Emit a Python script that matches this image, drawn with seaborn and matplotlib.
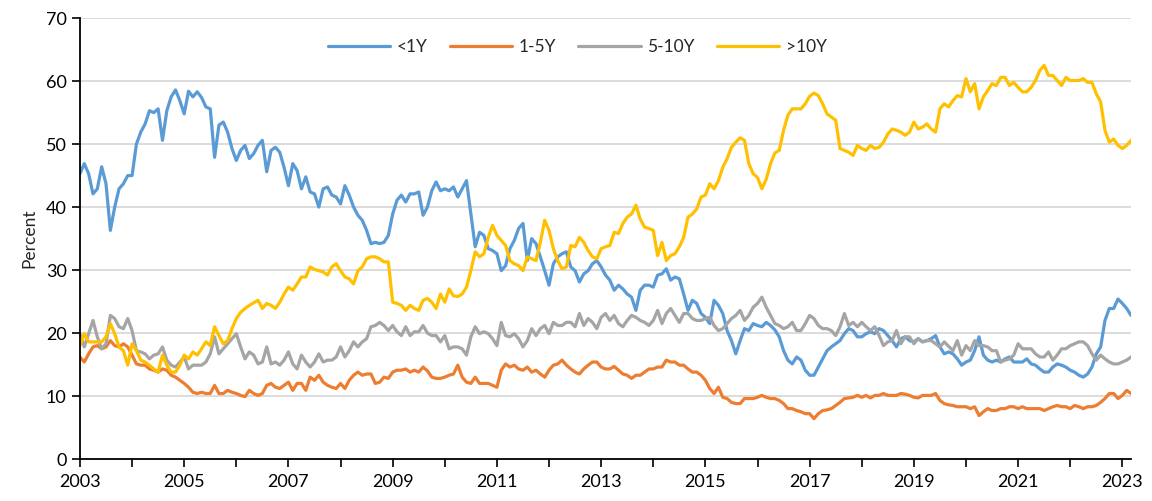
import matplotlib
matplotlib.use('Agg')
from matplotlib import pyplot as plt
from matplotlib.ticker import MultipleLocator, FixedLocator
import pandas as pd
import seaborn as sns

# monthly shares by maturity bucket, Jan 2003 onwards (percent)
series_names = ['<1Y', '1-5Y', '5-10Y', '>10Y']
series_colors = ['#5B9BD5', '#ED7D31', '#A5A5A5', '#FFC000']
year_labels = list(range(2003, 2024, 2))

lt_1y = [
    45.3, 46.9, 45.3, 42.1, 42.9, 46.4, 43.7, 36.3, 40.0, 42.9, 43.7, 45.0,
    45.0, 50.0, 51.9, 53.2, 55.3, 55.0, 55.6, 50.6, 55.3, 57.5, 58.6, 56.9,
    54.8, 58.4, 57.5, 58.3, 57.4, 55.9, 55.6, 47.9, 53.0, 53.5, 51.9, 49.3,
    47.4, 49.0, 49.8, 47.7, 48.5, 49.8, 50.6, 45.6, 49.0, 49.5, 48.7, 46.3,
    43.4, 46.9, 45.8, 42.9, 44.8, 42.4, 42.1, 40.0, 42.9, 43.2, 41.9, 41.6,
    40.5, 43.4, 41.9, 40.0, 38.7, 37.9, 36.3, 34.2, 34.4, 34.2, 34.4, 35.5,
    38.9, 41.1, 41.9, 40.8, 42.1, 42.1, 42.4, 38.7, 40.0, 42.6, 44.0, 42.6,
    42.9, 42.6, 43.2, 41.6, 42.9, 44.2, 38.9, 33.7, 36.0, 35.5, 33.4, 33.1,
    32.6, 29.9, 30.7, 33.4, 34.7, 36.6, 37.4, 31.5, 35.0, 34.2, 32.1, 29.9,
    27.6, 31.0, 32.1, 32.6, 32.9, 30.5, 29.9, 28.1, 29.4, 29.9, 31.0, 31.5,
    30.5, 29.2, 28.4, 26.8, 27.6, 27.0, 26.2, 25.7, 23.6, 26.8, 27.6, 27.6,
    27.3, 29.2, 29.4, 30.2, 28.4, 28.9, 28.6, 26.2, 23.6, 25.2, 24.7, 23.1,
    22.5, 21.5, 25.2, 24.4, 23.1, 20.4, 18.8, 16.7, 18.8, 20.7, 20.4, 21.5,
    21.2, 21.0, 21.7, 21.2, 20.5, 19.4, 17.2, 15.7, 15.1, 16.2, 15.7, 14.1,
    13.3, 13.3, 14.6, 15.9, 17.2, 17.8, 18.3, 18.8, 19.9, 20.7, 20.4, 19.4,
    19.4, 19.9, 20.2, 19.9, 20.7, 20.4, 19.6, 18.8, 17.8, 19.1, 19.4, 18.8,
    18.6, 19.1, 18.6, 18.8, 19.1, 19.6, 17.8, 16.7, 17.0, 16.7, 15.9, 14.9,
    15.4, 15.7, 17.2, 19.4, 16.5, 15.7, 15.4, 15.7, 15.4, 15.9, 16.2, 15.4,
    15.4, 15.4, 15.9, 15.1, 14.9, 14.3, 13.8, 13.8, 14.6, 15.1, 14.9, 14.6,
    14.1, 13.8, 13.3, 13.0, 13.5, 14.6, 16.7, 17.8, 22.0, 23.9, 23.9, 25.4,
    24.7, 23.9, 22.8,
]

y1_5 = [
    16.2, 15.4, 16.7, 17.8, 18.0, 17.5, 17.8, 18.8, 18.0, 17.8, 18.3, 17.8,
    16.5, 15.1, 14.9, 14.9, 14.3, 14.1, 13.8, 14.3, 14.1, 13.3, 13.0, 12.5,
    12.0, 11.4, 10.6, 10.4, 10.6, 10.4, 10.4, 11.7, 10.4, 10.4, 10.9, 10.6,
    10.4, 10.1, 9.9, 10.9, 10.4, 10.1, 10.4, 11.7, 12.0, 11.4, 11.2, 11.7,
    12.2, 10.9, 12.0, 12.0, 10.9, 13.0, 12.5, 13.3, 12.2, 11.7, 11.4, 11.2,
    12.0, 11.2, 12.5, 13.3, 13.8, 13.3, 13.5, 13.5, 12.0, 12.2, 13.0, 12.8,
    13.8, 14.1, 14.1, 14.3, 13.8, 14.1, 13.8, 14.6, 14.0, 13.0, 12.8, 12.8,
    13.0, 13.3, 13.5, 14.9, 13.0, 12.2, 12.0, 13.0, 12.0, 12.0, 12.0, 11.7,
    11.4, 14.1, 15.1, 14.6, 14.9, 14.3, 14.1, 14.6, 13.8, 14.1, 13.5, 13.0,
    14.1, 14.9, 15.1, 15.7, 14.9, 14.3, 13.8, 13.5, 14.3, 14.9, 15.4, 15.4,
    14.6, 14.3, 14.3, 14.7, 14.1, 13.5, 13.3, 12.8, 13.3, 13.3, 13.8, 14.3,
    14.3, 14.6, 14.6, 15.7, 15.4, 15.4, 14.9, 14.9, 14.3, 13.8, 13.8, 13.3,
    12.5, 11.2, 10.4, 11.4, 9.8, 9.6, 9.0, 8.8, 8.8, 9.6, 9.6, 9.6,
    9.8, 10.1, 9.8, 9.6, 9.6, 9.3, 8.8, 8.0, 8.0, 7.7, 7.5, 7.2,
    7.2, 6.4, 7.2, 7.7, 7.8, 8.0, 8.5, 9.0, 9.6, 9.7, 9.8, 10.1,
    9.8, 10.1, 9.7, 10.1, 10.1, 10.4, 10.1, 10.1, 10.1, 10.4, 10.3, 10.1,
    9.8, 9.7, 10.1, 10.1, 10.1, 10.4, 9.3, 8.8, 8.6, 8.5, 8.3, 8.3,
    8.3, 8.0, 8.3, 6.9, 7.5, 8.0, 7.7, 7.7, 8.0, 8.0, 8.3, 8.3,
    8.0, 8.3, 8.0, 8.0, 8.0, 8.0, 7.7, 8.0, 8.3, 8.5, 8.3, 8.3,
    8.0, 8.5, 8.3, 8.0, 8.3, 8.3, 8.5, 9.0, 9.6, 10.4, 10.4, 9.6,
    10.1, 10.9, 10.4,
]

y5_10 = [
    19.9, 17.8, 19.9, 22.0, 19.4, 17.5, 18.3, 22.8, 22.3, 21.0, 20.7, 22.3,
    20.4, 17.2, 17.0, 16.7, 15.9, 16.5, 16.7, 17.8, 15.7, 14.9, 14.6, 15.4,
    16.2, 14.3, 14.9, 14.9, 14.9, 15.4, 16.7, 19.4, 16.7, 17.5, 18.3, 19.1,
    19.9, 17.8, 15.9, 17.0, 16.5, 15.1, 15.4, 17.8, 15.1, 15.4, 14.9, 15.7,
    17.0, 15.1, 14.3, 16.5, 15.4, 14.6, 15.4, 16.7, 15.4, 15.7, 15.7, 16.2,
    17.8, 16.2, 17.2, 18.6, 17.8, 18.6, 19.1, 21.0, 21.2, 21.7, 21.2, 20.4,
    21.2, 20.2, 19.6, 21.0, 19.6, 20.2, 20.2, 21.2, 20.0, 19.6, 19.6, 18.6,
    19.6, 17.5, 17.8, 17.8, 17.5, 16.5, 19.4, 21.0, 19.9, 20.2, 19.9, 19.1,
    18.0, 21.7, 19.6, 19.4, 19.9, 19.1, 17.8, 18.8, 20.7, 19.6, 20.7, 21.2,
    19.9, 21.7, 21.2, 21.2, 21.7, 21.7, 21.0, 23.1, 21.2, 22.3, 21.7, 20.7,
    22.5, 23.1, 22.0, 22.8, 21.5, 21.0, 22.0, 22.8, 22.5, 22.0, 21.7, 21.2,
    22.0, 23.6, 21.5, 23.1, 23.9, 22.8, 21.7, 23.1, 23.1, 22.3, 22.0, 22.0,
    22.3, 22.5, 21.2, 20.4, 20.7, 21.5, 22.3, 22.8, 23.6, 22.0, 22.8, 24.1,
    24.7, 25.7, 24.1, 22.8, 21.5, 21.2, 20.7, 21.0, 21.7, 20.4, 20.4, 21.5,
    22.8, 22.3, 21.2, 20.7, 20.7, 20.4, 19.6, 21.0, 23.1, 21.2, 21.7, 21.0,
    21.7, 21.0, 20.4, 21.0, 19.6, 18.0, 18.6, 18.8, 20.4, 18.3, 19.4, 19.4,
    18.3, 19.1, 18.6, 18.8, 18.8, 18.3, 17.8, 18.6, 17.9, 17.2, 18.8, 16.5,
    18.0, 17.2, 18.8, 18.0, 18.0, 17.8, 17.2, 17.2, 15.4, 15.7, 15.9, 16.5,
    18.3, 17.5, 17.5, 17.5, 16.7, 16.2, 16.2, 17.0, 15.7, 16.5, 17.5, 17.5,
    18.0, 18.3, 18.6, 18.6, 18.0, 16.7, 15.7, 16.5, 15.9, 15.4, 15.1, 15.1,
    15.4, 15.7, 16.2,
]

gt_10y = [
    18.0, 19.9, 18.6, 18.6, 18.6, 18.6, 19.4, 21.5, 19.9, 17.8, 17.2, 14.9,
    18.3, 17.2, 15.7, 15.4, 14.9, 14.3, 13.8, 16.5, 14.9, 13.8, 13.8, 14.9,
    16.5, 15.9, 17.0, 16.5, 17.5, 18.6, 18.0, 21.0, 19.6, 18.3, 18.8, 20.7,
    22.3, 23.3, 23.9, 24.4, 24.8, 25.2, 23.9, 24.7, 24.4, 23.9, 24.9, 26.2,
    27.3, 26.8, 27.8, 28.9, 28.9, 30.5, 30.1, 29.9, 29.7, 29.2, 30.5, 31.0,
    29.9, 28.9, 28.6, 27.8, 29.9, 30.5, 31.8, 32.1, 32.1, 31.8, 31.3, 31.3,
    24.9, 24.7, 24.4, 23.6, 24.4, 23.9, 23.6, 25.2, 25.5, 24.9, 23.9, 26.2,
    24.9, 27.0, 25.9, 25.8, 26.2, 27.3, 29.9, 32.9, 32.1, 32.6, 35.2, 37.1,
    35.5, 34.7, 33.9, 31.5, 31.0, 30.7, 29.9, 32.1, 31.8, 31.5, 34.4, 37.9,
    36.3, 33.4, 31.5, 30.2, 30.5, 33.9, 33.7, 35.2, 34.4, 33.1, 32.1, 31.8,
    33.4, 33.7, 33.9, 36.0, 35.8, 37.4, 38.4, 38.9, 40.3, 38.1, 36.8, 36.6,
    36.3, 32.3, 34.4, 31.5, 32.3, 32.6, 33.7, 35.2, 38.4, 38.9, 39.7, 41.6,
    41.9, 43.7, 42.9, 44.2, 46.3, 47.7, 49.5, 50.3, 51.0, 50.6, 46.9, 45.3,
    44.7, 42.9, 44.4, 46.9, 48.6, 49.0, 52.2, 54.6, 55.6, 55.6, 55.6, 56.4,
    57.6, 58.1, 57.7, 56.4, 54.8, 54.3, 53.8, 49.3, 49.0, 48.7, 48.2, 49.8,
    49.3, 49.0, 49.8, 49.3, 49.5, 50.3, 51.6, 52.4, 52.2, 51.9, 51.4, 51.9,
    53.5, 52.4, 52.7, 53.2, 52.4, 51.9, 55.6, 56.4, 55.9, 56.9, 57.7, 57.5,
    60.4, 58.3, 59.6, 55.6, 57.5, 58.5, 59.6, 59.3, 60.6, 60.6, 59.3, 59.8,
    59.0, 58.3, 58.3, 59.0, 60.1, 61.7, 62.5, 60.9, 60.9, 60.1, 59.3, 60.6,
    60.1, 60.1, 60.1, 60.4, 59.8, 59.8, 58.0, 56.7, 52.2, 50.3, 50.8, 49.8,
    49.3, 49.8, 50.6,
]

# build long-form frame with fractional year on x
months = pd.date_range('2003-01-01', periods=len(lt_1y), freq='MS')
year_frac = months.year + (months.month - 1) / 12
wide = pd.DataFrame({'Year': year_frac, '<1Y': lt_1y, '1-5Y': y1_5,
                     '5-10Y': y5_10, '>10Y': gt_10y})
df = wide.melt(id_vars='Year', var_name='Maturity', value_name='Percent')

sns.set_style('white')
plt.rcParams['font.family'] = ['Lato', 'DejaVu Sans']

fig = plt.figure(figsize=(11.52, 5.01), dpi=100)
ax = fig.add_axes([0.0694, 0.0838, 0.9124, 0.880])

sns.lineplot(data=df, x='Year', y='Percent', hue='Maturity',
             hue_order=series_names, palette=series_colors,
             linewidth=2.3, ax=ax)

# axes limits and ticks
ax.set_ylim(0, 70)
ax.set_xlim(2003, year_frac[-1])
ax.yaxis.set_major_locator(MultipleLocator(10))
ax.xaxis.set_major_locator(FixedLocator(year_labels))
ax.xaxis.set_minor_locator(MultipleLocator(1))
ax.set_xticklabels([str(y) for y in year_labels])
ax.tick_params(axis='both', which='both', direction='out', length=6,
               width=1.2, color='black', labelsize=13, labelcolor='black',
               bottom=True, left=True)
ax.tick_params(axis='x', which='major', pad=5)

# grid and spines
ax.yaxis.grid(True, color='#D9D9D9', linewidth=1.3)
ax.set_axisbelow(True)
for side in ['top', 'right']:
    ax.spines[side].set_visible(False)
for side in ['left', 'bottom']:
    ax.spines[side].set_color('black')
    ax.spines[side].set_linewidth(1.3)

ax.set_xlabel('')
ax.set_ylabel('Percent', fontsize=12.5, labelpad=6)

ax.legend(loc='center', bbox_to_anchor=(0.473, 0.934), ncol=4, frameon=False,
          fontsize=12.5, handlelength=3.6, handletextpad=0.35,
          columnspacing=1.3)

plt.savefig('out.png', dpi=100)
